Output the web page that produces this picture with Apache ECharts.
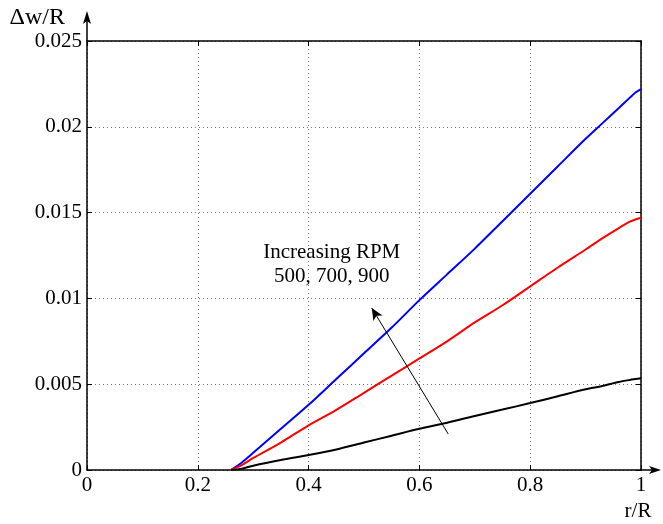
<!DOCTYPE html>
<html>
<head>
<meta charset="utf-8">
<script src="https://cdn.jsdelivr.net/npm/echarts@6/dist/echarts.min.js"></script>
<style>
html,body{margin:0;padding:0;background:#fff;}
#chart{width:663px;height:524px;}
</style>
</head>
<body>
<div id="chart"></div>
<script>
// r/R sample positions
const rR = [0.26, 0.28, 0.30, 0.35, 0.40, 0.45, 0.50, 0.55, 0.60, 0.65, 0.70, 0.75, 0.80, 0.85, 0.90, 0.93, 0.96, 0.98, 0.99, 1.00];
// Δw/R for 900 RPM (blue)
const rpm900 = [0, 0.00045, 0.0010, 0.0024, 0.0038, 0.0053, 0.0068, 0.0083, 0.0099, 0.0114, 0.0129, 0.0145, 0.0161, 0.0177, 0.0193, 0.0202, 0.0211, 0.0217, 0.0220, 0.0222];
// Δw/R for 700 RPM (red)
const rpm700 = [0, 0.0003, 0.0007, 0.0016, 0.0026, 0.0035, 0.0045, 0.0055, 0.0065, 0.0075, 0.0086, 0.0096, 0.0107, 0.0118, 0.01285, 0.0135, 0.0141, 0.01447, 0.0146, 0.0147];
// Δw/R for 500 RPM (black)
const rpm500 = [0, 0.00008, 0.00025, 0.00058, 0.00087, 0.0012, 0.0016, 0.0020, 0.0024, 0.00275, 0.00315, 0.00352, 0.0039, 0.0043, 0.0047, 0.0049, 0.00513, 0.00525, 0.0053, 0.00535];
const xTicks = {min: 0, max: 1, interval: 0.2};
const yTicks = {min: 0, max: 0.025, interval: 0.005};
const annotationText = ['Increasing RPM', '500, 700, 900'];
const annotationAnchor = [0.4418, 0.0120];
const arrowFrom = [0.652, 0.0021];
const arrowTo = [0.514, 0.00944];

const FONT = 'Liberation Serif';
const chart = echarts.init(document.getElementById('chart'), null, {renderer: 'canvas'});

function pairs(ys) { return rR.map((x, i) => [x, ys[i]]); }

const tickStyle = {show: true, inside: true, length: 5, lineStyle: {color: '#000', width: 1}};
const axisLine = {show: true, onZero: false, lineStyle: {color: '#000', width: 1.5}};
const split = {show: true, lineStyle: {color: '#777', type: [1, 3], width: 1}};

chart.setOption({
  animation: false,
  backgroundColor: '#fff',
  grid: {left: 87, right: 22, top: 41, bottom: 54, containLabel: false},
  xAxis: [
    {type: 'value', position: 'bottom', min: xTicks.min, max: xTicks.max, interval: xTicks.interval,
     axisLine: axisLine, axisTick: tickStyle, splitLine: split,
     axisLabel: {color: '#000', fontFamily: FONT, fontSize: 21, margin: 5}},
    {type: 'value', position: 'top', min: xTicks.min, max: xTicks.max, interval: xTicks.interval,
     axisLine: axisLine, axisTick: tickStyle, splitLine: {show: false}, axisLabel: {show: false}}
  ],
  yAxis: [
    {type: 'value', position: 'left', min: yTicks.min, max: yTicks.max, interval: yTicks.interval,
     axisLine: axisLine, axisTick: tickStyle, splitLine: split,
     axisLabel: {color: '#000', fontFamily: FONT, fontSize: 21, margin: 5}},
    {type: 'value', position: 'right', min: yTicks.min, max: yTicks.max, interval: yTicks.interval,
     axisLine: axisLine, axisTick: tickStyle, splitLine: {show: false}, axisLabel: {show: false}}
  ],
  series: [
    {type: 'line', name: '900', data: pairs(rpm900), showSymbol: false, symbol: 'none', smooth: 0.3,
     lineStyle: {color: '#0000ff', width: 2}, itemStyle: {color: '#0000ff'}},
    {type: 'line', name: '700', data: pairs(rpm700), showSymbol: false, symbol: 'none', smooth: 0.3,
     lineStyle: {color: '#ff0000', width: 2}, itemStyle: {color: '#ff0000'}},
    {type: 'line', name: '500', data: pairs(rpm500), showSymbol: false, symbol: 'none', smooth: 0.3,
     lineStyle: {color: '#000000', width: 2}, itemStyle: {color: '#000'},
     markLine: {
       silent: true, animation: false,
       symbol: ['none', 'arrow'], symbolSize: [8, 12],
       label: {show: false},
       lineStyle: {color: '#000', width: 1, type: 'solid'},
       data: [[{coord: arrowFrom}, {coord: arrowTo}]]
     }}
  ]
});

const yTop = chart.convertToPixel({gridIndex: 0}, [xTicks.min, yTicks.max]);
const xEnd = chart.convertToPixel({gridIndex: 0}, [xTicks.max, yTicks.min]);
const anchor = chart.convertToPixel({gridIndex: 0}, annotationAnchor);

chart.setOption({
  graphic: [
    {type: 'line', shape: {x1: yTop[0], y1: yTop[1], x2: yTop[0], y2: 16}, style: {stroke: '#000', lineWidth: 1.5}},
    {type: 'polygon', shape: {points: [[yTop[0] - 4, 24], [yTop[0], 11], [yTop[0] + 4, 24], [yTop[0], 21]]}, style: {fill: '#000'}},
    {type: 'line', shape: {x1: xEnd[0], y1: xEnd[1], x2: 656, y2: xEnd[1]}, style: {stroke: '#000', lineWidth: 1.5}},
    {type: 'polygon', shape: {points: [[649, xEnd[1] - 4], [661, xEnd[1]], [649, xEnd[1] + 4], [652, xEnd[1]]]}, style: {fill: '#000'}},
    {type: 'text', x: 65, y: 18, style: {text: 'Δw/R', fontFamily: FONT, fontSize: 24, fill: '#000', align: 'right', verticalAlign: 'middle'}},
    {type: 'text', x: 638, y: 511, style: {text: 'r/R', fontFamily: FONT, fontSize: 21, fill: '#000', align: 'center', verticalAlign: 'middle'}},
    {type: 'text', x: anchor[0], y: anchor[1], style: {text: annotationText.join('\n'), fontFamily: FONT, fontSize: 21, lineHeight: 24, fill: '#000', align: 'center', verticalAlign: 'middle'}}
  ]
});
</script>
</body>
</html>
